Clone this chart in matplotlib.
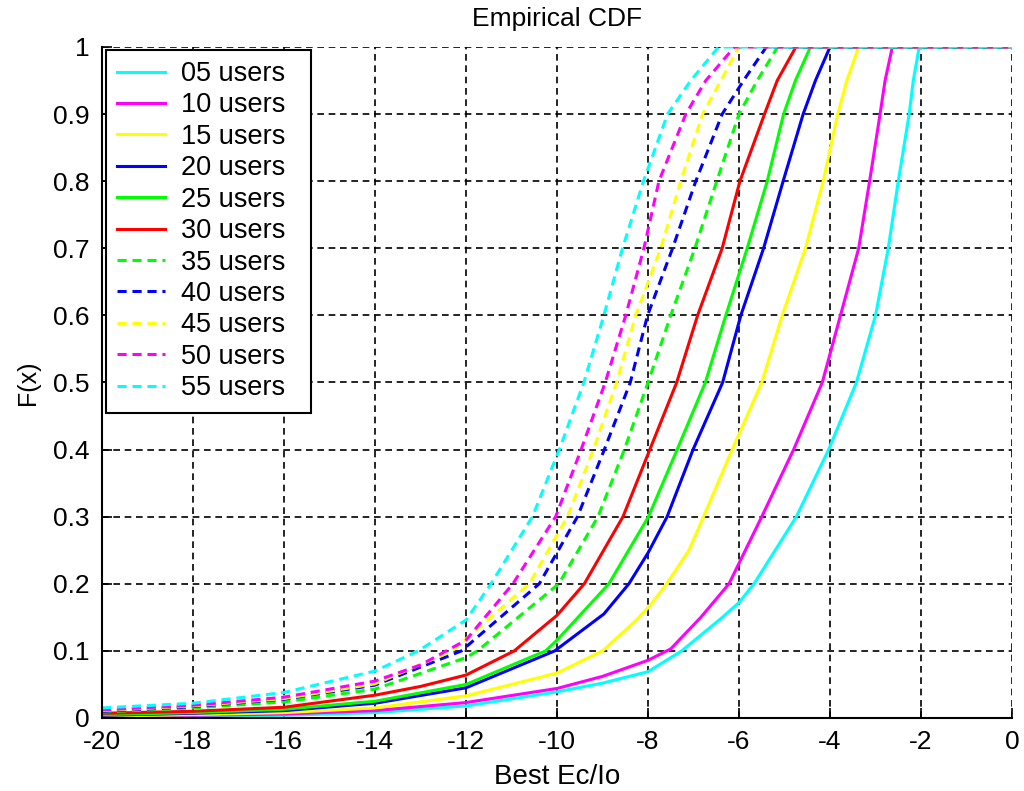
import matplotlib
matplotlib.use("Agg")
import matplotlib.pyplot as plt

plt.rcParams['font.family'] = ['Liberation Sans', 'DejaVu Sans']

labels = ["05 users", "10 users", "15 users", "20 users", "25 users", "30 users",
          "35 users", "40 users", "45 users", "50 users", "55 users"]
colors = ["#00ffff", "#ff00ff", "#ffff00", "#0000ff", "#00ff00", "#ff0000",
          "#00ff00", "#0000ff", "#ffff00", "#ff00ff", "#00ffff"]
styles = ["-", "-", "-", "-", "-", "-", "--", "--", "--", "--", "--"]

# Empirical CDF read-off points (x = Best Ec/Io, F = cumulative fraction)
x05 = [-20, -18, -16, -14, -12, -10, -9, -8, -7.26, -6.4, -6, -5.67, -4.74, -4.03, -3.42, -3.0, -2.72, -2.5, -2.26, -2.17, -2.04, 0]
f05 = [0.001, 0.002, 0.004, 0.008, 0.018, 0.039, 0.052, 0.069, 0.1, 0.148, 0.172, 0.2, 0.3, 0.4, 0.5, 0.6, 0.7, 0.8, 0.9, 0.95, 1.0, 1.0]

x10 = [-20, -18, -16, -14, -12, -10, -9, -8, -7.5, -6.84, -6.22, -5.5, -4.8, -4.17, -3.77, -3.37, -3.13, -2.9, -2.79, -2.63, 0]
f10 = [0.002, 0.004, 0.006, 0.011, 0.023, 0.044, 0.062, 0.086, 0.103, 0.15, 0.2, 0.3, 0.4, 0.5, 0.6, 0.7, 0.8, 0.9, 0.95, 1.0, 1.0]

x15 = [-20, -18, -16, -14, -12, -10, -9.0, -8.27, -7.95, -7.59, -7.1, -6.78, -6.15, -5.5, -5.05, -4.54, -4.15, -3.83, -3.63, -3.37, 0]
f15 = [0.003, 0.005, 0.008, 0.015, 0.033, 0.067, 0.1, 0.145, 0.168, 0.2, 0.25, 0.3, 0.4, 0.5, 0.6, 0.7, 0.8, 0.9, 0.95, 1.0, 1.0]

x20 = [-20, -18, -16, -14, -12, -10.05, -8.97, -8.42, -8, -7.58, -7.01, -6.36, -5.96, -5.46, -5.03, -4.59, -4.32, -4.0, 0]
f20 = [0.004, 0.007, 0.011, 0.022, 0.045, 0.1, 0.155, 0.2, 0.246, 0.3, 0.4, 0.5, 0.6, 0.7, 0.8, 0.9, 0.95, 1.0, 1.0]

x25 = [-20, -18, -16, -14, -12, -10.25, -10, -8.86, -7.99, -7.36, -6.74, -6.29, -5.82, -5.38, -5.02, -4.76, -4.43, 0]
f25 = [0.005, 0.008, 0.013, 0.025, 0.05, 0.1, 0.116, 0.2, 0.3, 0.4, 0.5, 0.6, 0.7, 0.8, 0.9, 0.95, 1.0, 1.0]

x30 = [-20, -18, -16, -14, -13, -12, -10.94, -10, -9.4, -8.55, -7.96, -7.37, -6.91, -6.37, -5.98, -5.44, -5.16, -4.75, 0]
f30 = [0.007, 0.01, 0.016, 0.034, 0.047, 0.064, 0.1, 0.153, 0.2, 0.3, 0.4, 0.5, 0.6, 0.7, 0.8, 0.9, 0.95, 1.0, 1.0]

x35 = [-20, -18, -16, -14, -12, -11.75, -9.96, -9.1, -8.52, -8.0, -7.5, -6.97, -6.49, -6.0, -5.6, -5.15, 0]
f35 = [0.009, 0.015, 0.024, 0.043, 0.09, 0.1, 0.2, 0.3, 0.4, 0.5, 0.6, 0.7, 0.8, 0.9, 0.95, 1.0, 1.0]

x40 = [-20, -18, -16, -14, -12.1, -10.39, -9.55, -8.96, -8.39, -8.01, -7.46, -6.95, -6.37, -5.9, -5.4, 0]
f40 = [0.01, 0.017, 0.028, 0.049, 0.1, 0.2, 0.3, 0.4, 0.5, 0.6, 0.7, 0.8, 0.9, 0.95, 1.0, 1.0]

x45 = [-20, -18, -16, -14, -12.3, -10.61, -9.77, -9.2, -8.69, -8.27, -7.72, -7.28, -6.8, -6.4, -6.0, 0]
f45 = [0.011, 0.018, 0.029, 0.051, 0.1, 0.2, 0.3, 0.4, 0.5, 0.6, 0.7, 0.8, 0.9, 0.95, 1.0, 1.0]

x50 = [-20, -18, -16, -14, -13, -12, -10.97, -10.03, -9.47, -8.94, -8.49, -8.09, -7.76, -7.17, -6.73, -6.1, 0]
f50 = [0.012, 0.019, 0.031, 0.055, 0.079, 0.116, 0.2, 0.3, 0.4, 0.5, 0.6, 0.7, 0.8, 0.9, 0.95, 1.0, 1.0]

x55 = [-20, -18, -16, -14, -13.05, -12, -11.45, -10.54, -9.95, -9.41, -8.97, -8.56, -8.1, -7.57, -7.06, -6.45, 0]
f55 = [0.015, 0.022, 0.038, 0.07, 0.1, 0.146, 0.2, 0.3, 0.4, 0.5, 0.6, 0.7, 0.8, 0.9, 0.95, 1.0, 1.0]

xs = [x05, x10, x15, x20, x25, x30, x35, x40, x45, x50, x55]
fs = [f05, f10, f15, f20, f25, f30, f35, f40, f45, f50, f55]

xticks = list(range(-20, 1, 2))
yticks = [0, 0.1, 0.2, 0.3, 0.4, 0.5, 0.6, 0.7, 0.8, 0.9, 1.0]
yticklabels = ["0", "0.1", "0.2", "0.3", "0.4", "0.5", "0.6", "0.7", "0.8", "0.9", "1"]

fig = plt.figure(figsize=(10.24, 7.91), dpi=100)
ax = fig.add_axes([0.0996, 0.0923, 0.8887, 0.8483])

for x, f, c, s, lab in zip(xs, fs, colors, styles, labels):
    if s == "--":
        ax.plot(x, f, color=c, linewidth=2.2, linestyle=(0, (3.0, 1.9)), label=lab)
    else:
        ax.plot(x, f, color=c, linewidth=2.2, linestyle="-", label=lab)

ax.set_xlim(-20, 0)
ax.set_ylim(0, 1)
ax.set_xticks(xticks)
ax.set_xticklabels([str(t) for t in xticks])
ax.set_yticks(yticks)
ax.set_yticklabels(yticklabels)
ax.grid(True, color="black", linestyle=(0, (4, 2.8)), linewidth=1.2)
ax.set_axisbelow(True)
ax.tick_params(direction="in", length=7, width=1.2, labelsize=19, pad=9, colors="black")
for side in ["top", "right"]:
    ax.spines[side].set_visible(False)
for side in ["left", "bottom"]:
    ax.spines[side].set_linewidth(1.5)

ax.set_title("Empirical CDF", fontsize=19, pad=15)
ax.set_xlabel("Best Ec/Io", fontsize=20, labelpad=7)
ax.set_ylabel("F(x)", fontsize=18, labelpad=9)

leg = ax.legend(loc="upper left", bbox_to_anchor=(0.004, 0.5, 0.226, 0.496), mode="expand",
                borderaxespad=0,
                fontsize=19.5, handlelength=1.77, handletextpad=0.59, labelspacing=0.2,
                borderpad=0.42, fancybox=False, framealpha=1)
leg.get_frame().set_edgecolor("black")
leg.get_frame().set_linewidth(1.5)

fig.savefig("out.png", dpi=100)
